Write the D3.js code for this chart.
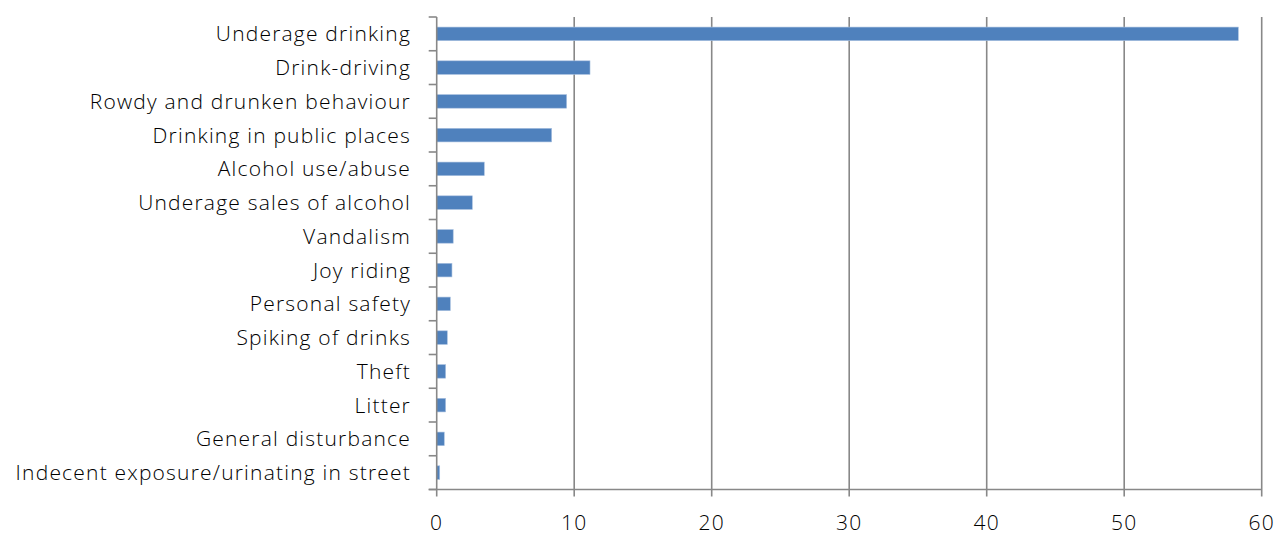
<!DOCTYPE html>
<html><head><meta charset="utf-8">
<script src="https://cdn.jsdelivr.net/npm/d3@7"></script>
<style>body{margin:0;background:#fff}svg{display:block}text{font-family:"Open Sans",sans-serif;font-weight:300;fill:#000}</style>
</head><body>
<svg id="c" width="1277" height="533"></svg>
<script>
const categories = ["Underage drinking","Drink-driving","Rowdy and drunken behaviour","Drinking in public places","Alcohol use/abuse","Underage sales of alcohol","Vandalism","Joy riding","Personal safety","Spiking of drinks","Theft","Litter","General disturbance","Indecent exposure/urinating in street"];
const values = [58.3,11.15,9.45,8.36,3.46,2.59,1.2,1.11,0.99,0.77,0.65,0.65,0.55,0.22];
const xTicks = [0,10,20,30,40,50,60];

const svg = d3.select("#c");
const L = 436.7, R = 1261.7, T = 17, B = 489.5;
const x = d3.scaleLinear().domain([0,60]).range([L,R]);
const yb = d3.scaleBand().domain(categories).range([T,B]);

// gridlines
svg.append("g").selectAll("line").data(xTicks.slice(1)).join("line")
  .attr("x1",d=>x(d)).attr("x2",d=>x(d)).attr("y1",T).attr("y2",B+7)
  .attr("stroke","#888").attr("stroke-width",1.6);

// bars
svg.append("g").selectAll("rect").data(values).join("rect")
  .attr("x",x(0)).attr("y",(d,i)=>yb(categories[i])+yb.bandwidth()/2-6.8)
  .attr("width",d=>x(d)-x(0)).attr("height",13.6)
  .attr("fill","#4F81BD").attr("stroke","#a9c1e0").attr("stroke-width",0.6);

// y axis
svg.append("line").attr("x1",L).attr("x2",L).attr("y1",T).attr("y2",B).attr("stroke","#888").attr("stroke-width",1.6);
const yTickPos = d3.range(categories.length+1).map(i=>T+i*yb.step());
svg.append("g").selectAll("line").data(yTickPos).join("line")
  .attr("x1",L-8).attr("x2",L).attr("y1",d=>d).attr("y2",d=>d).attr("stroke","#888").attr("stroke-width",1.6);
// x axis
svg.append("line").attr("x1",L-8).attr("x2",R).attr("y1",B).attr("y2",B).attr("stroke","#888").attr("stroke-width",1.6);
svg.append("line").attr("x1",L).attr("x2",L).attr("y1",B).attr("y2",B+7).attr("stroke","#888").attr("stroke-width",1.6);

// labels
svg.append("g").selectAll("text").data(categories).join("text")
  .attr("x",411).attr("y",d=>yb(d)+yb.bandwidth()/2).attr("dy","0.36em")
  .attr("text-anchor","end").attr("font-size",21).attr("letter-spacing",1.2).text(d=>d);
svg.append("g").selectAll("text").data(xTicks).join("text")
  .attr("x",d=>x(d)).attr("y",530)
  .attr("text-anchor","middle").attr("font-size",21).attr("letter-spacing",1.2).text(d=>d);
</script>
</body></html>
